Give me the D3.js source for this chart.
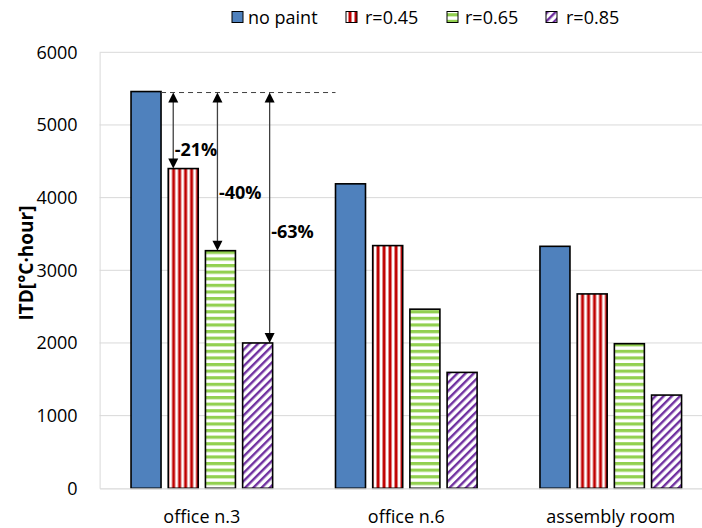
<!DOCTYPE html>
<html><head><meta charset="utf-8">
<script src="https://cdn.jsdelivr.net/npm/d3@7"></script>
<style>
html,body{margin:0;padding:0;background:#fff;}
svg{display:block;font-family:"Open Sans",sans-serif;}
</style></head>
<body><svg id="c" width="702" height="528"></svg>
<script>
// ---- data ----
const categories = ["office n.3", "office n.6", "assembly room"];
const seriesNames = ["no paint", "r=0.45", "r=0.65", "r=0.85"];
const noPaint = [5460, 4190, 3330];
const r045 = [4400, 3340, 2675];
const r065 = [3270, 2465, 1990];
const r085 = [2000, 1595, 1283];
const yTicks = [0, 1000, 2000, 3000, 4000, 5000, 6000];
const reductionLabels = ["-21%", "-40%", "-63%"];
const reductionLabelAt = [4665, 4064, 3531];

const seriesValues = [noPaint, r045, r065, r085];

// ---- layout ----
const W = 702, H = 528;
const plot = {left: 99.6, right: 713, top: 52.3, bottom: 488.3};
const svg = d3.select("#c");

const x0 = d3.scaleBand().domain(categories).range([plot.left, plot.right]).paddingInner(0).paddingOuter(0);
const x1 = d3.scaleBand().domain(seriesNames).range([0, x0.bandwidth()]).paddingInner(0.1935).paddingOuter(0.845);
const y = d3.scaleLinear().domain([0, 6000]).range([plot.bottom, plot.top]);

// patterns
const defs = svg.append("defs");
const pRed = defs.append("pattern").attr("id", "pRed").attr("patternUnits", "userSpaceOnUse")
  .attr("width", 6).attr("height", 10);
pRed.append("rect").attr("width", 6).attr("height", 10).attr("fill", "#fff");
pRed.append("rect").attr("x", 0.5).attr("width", 3).attr("height", 10).attr("fill", "#C00000");

const pGreen = defs.append("pattern").attr("id", "pGreen").attr("patternUnits", "userSpaceOnUse")
  .attr("width", 10).attr("height", 6.6);
pGreen.append("rect").attr("width", 10).attr("height", 6.6).attr("fill", "#fff");
pGreen.append("rect").attr("y", 0).attr("width", 10).attr("height", 3.2).attr("fill", "#92D050");

const pPurple = defs.append("pattern").attr("id", "pPurple").attr("patternUnits", "userSpaceOnUse")
  .attr("width", 5.8).attr("height", 10).attr("patternTransform", "rotate(45)");
pPurple.append("rect").attr("width", 5.8).attr("height", 10).attr("fill", "#fff");
pPurple.append("rect").attr("width", 2.4).attr("height", 10).attr("fill", "#7030A0");

const fills = ["#4F81BD", "url(#pRed)", "url(#pGreen)", "url(#pPurple)"];

// gridlines
svg.append("g").selectAll("line").data(yTicks.filter(d => d > 0)).join("line")
  .attr("x1", plot.left).attr("x2", W).attr("y1", d => y(d)).attr("y2", d => y(d))
  .attr("stroke", "#d9d9d9").attr("stroke-width", 1);

// y axis
const yAxis = svg.append("g").attr("transform", `translate(${plot.left},0)`)
  .call(d3.axisLeft(y).tickValues(yTicks).tickSize(0).tickPadding(22).tickFormat(d3.format("d")));
yAxis.select(".domain").attr("stroke", "#d9d9d9");
yAxis.selectAll("text").attr("font-size", 18).attr("fill", "#000").attr("font-family", "Open Sans");

// bars
const groups = svg.append("g").selectAll("g").data(categories).join("g")
  .attr("transform", d => `translate(${x0(d)},0)`);
groups.selectAll("rect").data((c, ci) => seriesNames.map((s, si) => ({s, si, v: seriesValues[si][ci]}))).join("rect")
  .attr("x", d => x1(d.s)).attr("width", x1.bandwidth())
  .attr("y", d => y(d.v)).attr("height", d => y(0) - y(d.v))
  .attr("fill", d => fills[d.si]).attr("stroke", "#000").attr("stroke-width", 1.6);

// x axis
const xAxis = svg.append("g").attr("transform", `translate(0,${plot.bottom})`)
  .call(d3.axisBottom(x0).tickSize(0).tickPadding(22));
xAxis.select(".domain").attr("stroke", "#d9d9d9").attr("stroke-width", 1.3);
xAxis.selectAll("text").attr("font-size", 18).attr("fill", "#000").attr("font-family", "Open Sans");

// y title
svg.append("text").attr("transform", `translate(33,263) rotate(-90)`)
  .attr("text-anchor", "middle").attr("font-size", 19).attr("font-weight", "bold")
  .text("ITD[°C·hour]");

// annotations
const c0 = categories[0];
const topY = y(noPaint[0]) + 1;
const dashStart = x0(c0) + x1(seriesNames[0]) + x1.bandwidth();
const dashEnd = x0(categories[1]) + x1(seriesNames[0]);
svg.append("line").attr("x1", dashStart).attr("x2", dashEnd).attr("y1", topY).attr("y2", topY)
  .attr("stroke", "#404040").attr("stroke-width", 1).attr("stroke-dasharray", "5,4");

const arrowOffsets = [5, 12, 27];
const headL = 10, headW = 5;
[r045, r065, r085].forEach((arr, i) => {
  const ax = x0(c0) + x1(seriesNames[i + 1]) + arrowOffsets[i];
  const yb = y(arr[0]);
  svg.append("line").attr("x1", ax).attr("x2", ax).attr("y1", topY + headL - 1).attr("y2", yb - headL + 1)
    .attr("stroke", "#404040").attr("stroke-width", 1.3);
  svg.append("path").attr("d", `M${ax},${topY}L${ax - headW},${topY + headL}L${ax + headW},${topY + headL}Z`).attr("fill", "#000");
  svg.append("path").attr("d", `M${ax},${yb}L${ax - headW},${yb - headL}L${ax + headW},${yb - headL}Z`).attr("fill", "#000");
  svg.append("text").attr("x", ax + 1.5).attr("y", y(reductionLabelAt[i]) + 6.5)
    .attr("font-size", 18).attr("font-weight", "bold").text(reductionLabels[i]);
});

// legend
const legendMarkerX = [232, 346, 447, 546];
const legendTextX = [248, 365, 465, 566];
const leg = svg.append("g");
seriesNames.forEach((s, i) => {
  leg.append("rect").attr("x", legendMarkerX[i]).attr("y", 11.5).attr("width", 11).attr("height", 11)
    .attr("fill", fills[i]).attr("stroke", "#000").attr("stroke-width", 1);
  leg.append("text").attr("x", legendTextX[i]).attr("y", 23.5).attr("font-size", 18).text(s);
});
</script></body></html>
